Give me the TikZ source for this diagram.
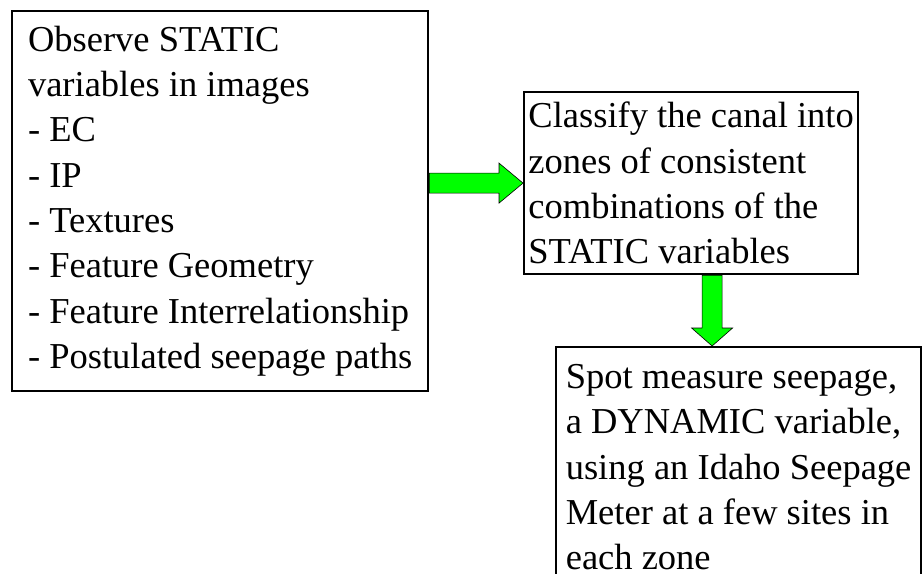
\documentclass[tikz,border=0pt]{standalone}
\usepackage{fontspec}
\setmainfont{Liberation Serif}
\usetikzlibrary{calc}
\definecolor{cgreen}{HTML}{00FF00}
\tikzset{
  every picture/.style={x=1pt, y=-1pt},
  box/.style={draw=black, line width=2.2pt, align=left, inner sep=0pt, anchor=north west, font=\fontsize{36.5}{45.3}\selectfont},
  greenarrow/.style={draw=black, fill=cgreen, line width=0.6pt, line join=miter},
}

\begin{document}
\begin{tikzpicture}
  \useasboundingbox (0,0) rectangle (923,573);
  % ---------- boxes
  \node[box, minimum width=416pt, minimum height=380pt] (observe) at (11,10)
    {Observe STATIC\\variables in images\\- EC\\- IP\\- Textures\\- Feature Geometry\\- Feature Interrelationship\\- Postulated seepage paths};
  \node[box, minimum width=334pt, minimum height=182pt] (classify) at (523,91)
    {Classify the canal into\\zones of consistent\\combinations of the\\STATIC variables};
  \node[box, minimum width=365pt, minimum height=240pt] (spot) at (555,346)
    {Spot measure seepage,\\a DYNAMIC variable,\\using an Idaho Seepage\\Meter at a few sites in\\each zone};
  % ---------- block arrows
  \coordinate (a1tail) at (observe.east |- classify.west);
  \draw[greenarrow] ($(a1tail)+(0,-10)$) -| ($(classify.west)+(-24,-20)$) -- (classify.west)
    -- ($(classify.west)+(-24,20)$) |- ($(a1tail)+(0,10)$) -- cycle;
  \coordinate (a2tail) at ($(classify.south)+(21,0)$);
  \coordinate (a2tip) at (a2tail |- spot.north);
  \draw[greenarrow] ($(a2tail)+(-10,0)$) |- ($(a2tip)+(-20.5,-18)$) -- (a2tip)
    -- ($(a2tip)+(20.5,-18)$) -| ($(a2tail)+(10,0)$) -- cycle;
\end{tikzpicture}
\end{document}
